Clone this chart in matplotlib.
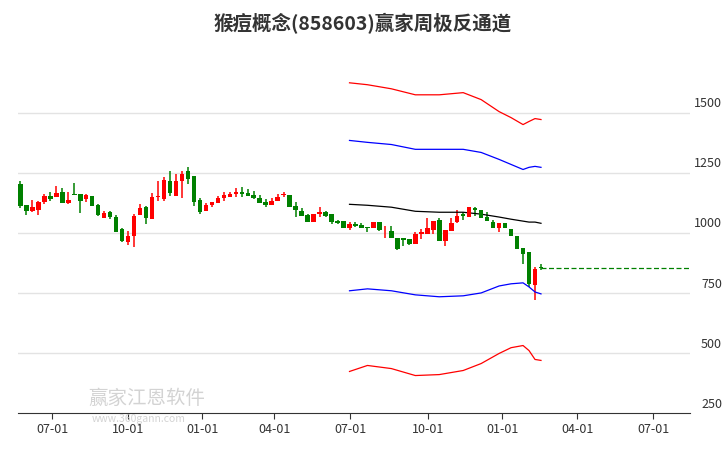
import matplotlib
matplotlib.use("Agg")
import matplotlib.pyplot as plt
import matplotlib.transforms as mtransforms

plt.rcParams['font.family'] = ['Noto Sans CJK SC', 'DejaVu Sans']

opens = [1205,1117,1093,1098,1130,1155,1152,1171,1127,1163,1163,1144,1155,1117,1065,1088,1068,1018,965,990,
         1077,1109,1061,1152,1144,1217,1156,1218,1258,1238,1138,1094,1119,1127,1148,1152,1164,1171,1167,1159,
         1146,1130,1119,1134,1159,1159,1115,1095,1076,1048,1079,1087,1079,1051,1051,1021,1040,1035,1026,1021,
         1046,1012,1010,982,982,977,954,996,999,1015,1054,968,1010,1046,1079,1070,1106,1098,1068,1046,
         1021,1043,1018,988,938,921,783,860]
highs = [1217,1117,1138,1135,1163,1171,1196,1188,1171,1209,1163,1163,1156,1122,1093,1094,1076,1022,1010,1080,
         1122,1115,1167,1217,1234,1258,1246,1258,1275,1238,1146,1126,1130,1155,1171,1171,1188,1192,1184,1176,
         1159,1142,1146,1162,1173,1159,1129,1106,1082,1082,1109,1093,1079,1057,1051,1046,1048,1043,1026,1046,
         1046,1032,1032,982,982,977,1004,1018,1062,1051,1062,1015,1062,1098,1087,1109,1109,1098,1087,1054,
         1043,1043,1018,988,938,921,858,871]
lows = [1106,1077,1088,1077,1124,1135,1152,1127,1123,1160,1086,1131,1115,1073,1065,1061,1007,965,953,945,
        1077,1040,1061,1135,1135,1156,1156,1148,1206,1115,1082,1094,1111,1127,1135,1152,1152,1152,1156,1144,
        1127,1111,1119,1134,1151,1109,1068,1073,1046,1048,1070,1070,1037,1040,1023,1015,1026,1023,1007,1021,
        1010,982,979,930,949,952,954,977,999,999,968,949,1010,1043,1057,1070,1073,1062,1051,1021,
        1004,1021,990,935,871,775,722,849]
closes = [1115,1094,1109,1131,1155,1144,1167,1127,1138,1160,1135,1159,1115,1077,1084,1069,1007,970,989,1072,
          1105,1065,1151,1155,1221,1169,1217,1246,1227,1131,1090,1117,1130,1146,1159,1163,1171,1164,1156,1148,
          1127,1119,1134,1153,1162,1109,1098,1073,1046,1079,1087,1073,1048,1043,1023,1040,1029,1023,1021,1046,
          1015,1015,979,935,971,954,996,1004,1021,1051,968,1015,1043,1073,1073,1109,1098,1065,1051,1021,
          1043,1021,990,935,916,791,852,857]

chan_idx = [55,58,62,66,70,74,77,80,82,84,85,86,87]
upper_red = [1627,1619,1602,1577,1577,1586,1557,1507,1482,1453,1466,1478,1474]
upper_blue = [1387,1379,1370,1350,1350,1350,1337,1308,1287,1266,1275,1279,1275]
middle = [1121,1117,1109,1092,1088,1088,1080,1068,1059,1051,1047,1047,1042]
lower_blue = [761,769,761,744,736,740,752,781,790,794,777,756,748]
lower_red = [425,450,437,408,412,429,458,500,524,533,512,475,471]
last_price = 857

tick_pos = [5.3,18.0,30.4,42.4,55.1,68.1,80.5,93.1,105.8]
tick_labels = ['07-01','10-01','01-01','04-01','07-01','10-01','01-01','04-01','07-01']
y_ticks = [250,500,750,1000,1250,1500]

fig = plt.figure(figsize=(7.26,4.5), dpi=100)
ax = fig.add_axes([0.0248,0.0822,0.9256,0.7845])
ax.set_xlim(-0.4,111.9)
ax.set_ylim(252,1722)

for y in y_ticks[1:]:
    ax.axhline(y, color='#e3e3e3', lw=1, zorder=0)

up_c, dn_c = '#ff0000', '#008000'
for i,(o,h,l,c) in enumerate(zip(opens,highs,lows,closes)):
    col = up_c if c >= o else dn_c
    ax.vlines(i, l, h, color=col, lw=1.1, zorder=2)
    ax.bar(i, max(abs(c-o),3), bottom=min(o,c), width=0.76, color=col, zorder=3, linewidth=0)

ax.plot(chan_idx, upper_red, color='red', lw=0.9)
ax.plot(chan_idx, upper_blue, color='blue', lw=0.9)
ax.plot(chan_idx, middle, color='black', lw=0.9)
ax.plot(chan_idx, lower_blue, color='blue', lw=0.9)
ax.plot(chan_idx, lower_red, color='red', lw=0.9)
ax.plot([len(closes)-1, 111.9], [last_price,last_price], color='#008000', lw=0.9, ls=(0,(4,2)))

for s in ['top','right','left']:
    ax.spines[s].set_visible(False)
ax.spines['bottom'].set_color('#333333')
ax.set_yticks([])
ax.set_xticks(tick_pos)
ax.set_xticklabels(tick_labels, fontsize=9, color='#333333')
ax.tick_params(axis='x', length=4, color='#333333', pad=3)

trans = mtransforms.blended_transform_factory(fig.transFigure, ax.transData)
for y in y_ticks:
    ax.text(722/726, y+12, str(y), transform=trans, ha='right', va='bottom', fontsize=9, color='#333333')

fig.text(0.5, 1-24/450, '猴痘概念(858603)赢家周极反通道', ha='center', va='center', fontsize=14, fontweight='bold', color='#333333')
fig.text(88/726, 1-398/450, '赢家江恩软件', fontsize=14, color='#c8c8c8', va='center', alpha=0.8)
fig.text(92/726, 1-419/450, 'www.360gann.com', fontsize=7.5, color='#c8c8c8', va='center', alpha=0.8)

fig.savefig('out.png', dpi=100)
